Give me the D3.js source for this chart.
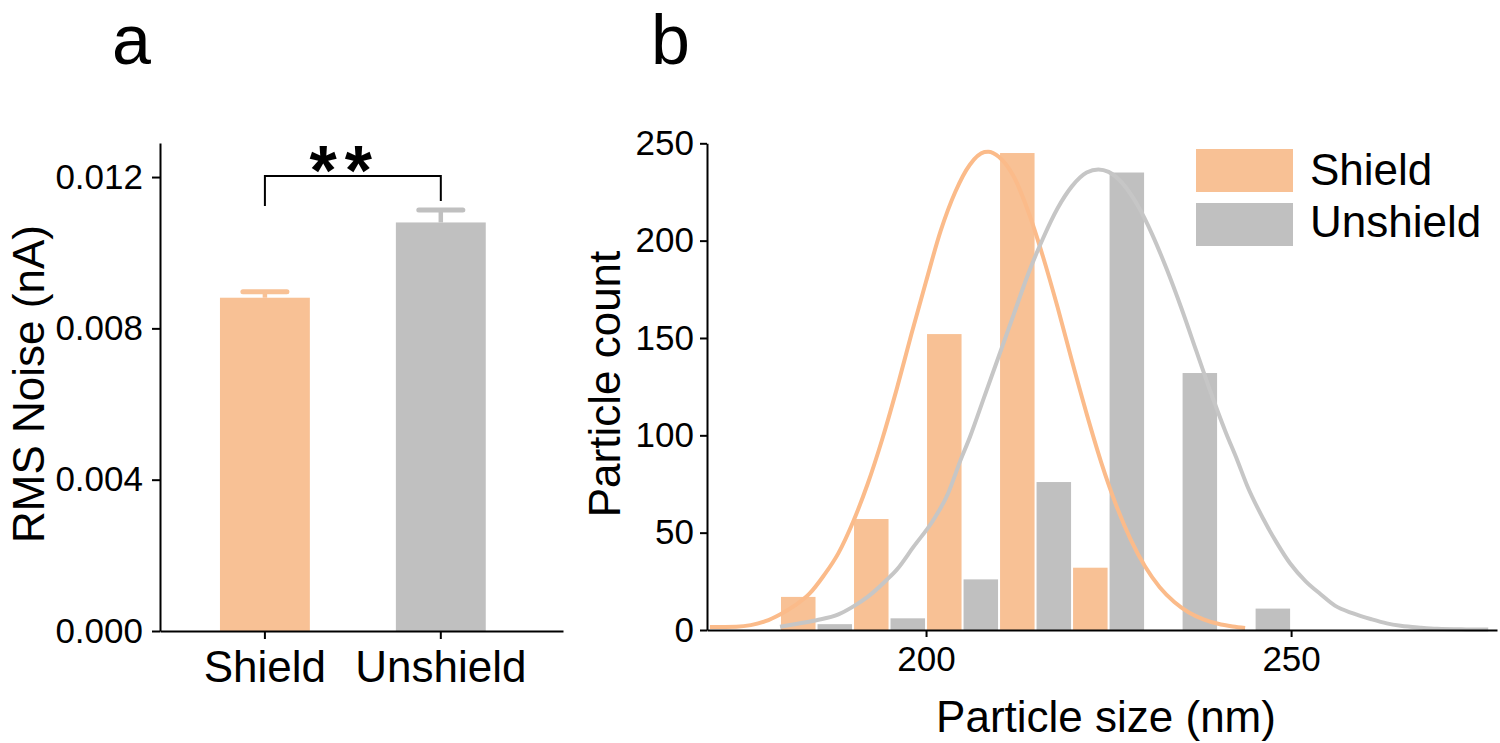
<!DOCTYPE html>
<html>
<head>
<meta charset="utf-8">
<script src="https://cdn.jsdelivr.net/npm/d3@7"></script>
<style>
  html, body { margin: 0; padding: 0; background: #fff; }
  svg { display: block; }
  text { font-family: "Liberation Sans", Arial, Helvetica, sans-serif; fill: #000; }
</style>
</head>
<body>
<svg id="chart" width="1500" height="743"></svg>
<script>
// ---------- Panel a data ----------
const noiseCategories = ["Shield", "Unshield"];
const noiseMeans = [0.00881, 0.0108];
const noiseErrors = [0.00016, 0.00033];
const noiseTicks = [0, 0.004, 0.008, 0.012];
const significanceLabel = "**";

// ---------- Panel b data ----------
const seriesNames = ["Shield", "Unshield"];
const binStarts = [180, 190, 200, 210, 220, 230, 240];
const shieldCounts = [17, 57, 152, 245, 32, 0, 0];
const unshieldCounts = [3, 6, 26, 76, 235, 132, 11];
const countTicks = [0, 50, 100, 150, 200, 250];
const sizeTicks = [200, 250];

const shieldFitSize = [170.4, 174, 176, 178, 180, 182, 184, 186, 188, 190, 192, 194, 196, 198, 200, 202, 204, 206, 208, 208.5, 210, 212, 214, 216, 218, 220, 222, 224, 226, 228, 230, 232, 234, 236, 238, 240, 242, 243.7];
const shieldFitCount = [1.5, 1.7, 2.5, 4.5, 8, 12.5, 18.5, 28, 39.5, 55.5, 75, 98, 124, 152, 179, 205, 225, 239, 245.5, 245.7, 243, 233, 215, 192, 166, 138, 111, 86, 64.5, 46.7, 32.6, 22, 14.4, 9, 5.5, 3.2, 1.8, 1.0];

const unshieldFitSize = [180, 182, 185, 188, 190, 192, 194.6, 196, 198.3, 201, 203, 204.7, 206, 208, 210, 212, 214, 216, 218, 220, 222, 223.6, 225, 227, 229, 231, 233, 235, 237, 239, 241, 242.6, 244, 246.2, 248, 249.9, 252, 254, 256, 258.5, 261, 263.1, 265, 267.7, 270, 274, 277];
const unshieldFitCount = [1.7, 3, 5, 8, 12, 17, 25.7, 31, 42.8, 56.5, 70, 87, 99, 120, 141, 162, 183, 201, 216.5, 228, 235, 236.6, 235.3, 229, 218, 203, 185, 165, 143.5, 122, 102, 87.5, 74, 57, 45, 34, 25, 18.5, 12.5, 8.5, 5.5, 3.4, 2.2, 1.2, 0.6, 0.3, 0.2];

// ---------- Styles ----------
const orangeBar = "#F8C195";
const greyBar = "#C0C0C0";
const orangeLine = "#FBBB8A";
const greyLine = "#C6C6C6";
const FONT = '"Liberation Sans", Arial, Helvetica, sans-serif';

const svg = d3.select("#chart");
svg.append("rect").attr("width", 1500).attr("height", 743).attr("fill", "#fff");

function styleAxis(g, fontSize) {
  g.selectAll("path.domain").attr("stroke", "#000").attr("stroke-width", 2);
  g.selectAll(".tick line").attr("stroke", "#000").attr("stroke-width", 2);
  g.selectAll(".tick text").attr("font-size", fontSize).attr("font-family", FONT).attr("fill", "#000");
}

// ================= Panel a =================
const yA = d3.scaleLinear().domain([0, 0.0129]).range([631, 143]);
const xA = d3.scaleBand().domain(noiseCategories).range([160, 563])
  .paddingInner(0.489).paddingOuter(0.39).align(0.437);

const gA = svg.append("g");

// bars
gA.selectAll("rect.bar").data(noiseCategories).join("rect")
  .attr("class", "bar")
  .attr("x", d => xA(d))
  .attr("width", xA.bandwidth())
  .attr("y", (d, i) => yA(noiseMeans[i]))
  .attr("height", (d, i) => yA(0) - yA(noiseMeans[i]))
  .attr("fill", (d, i) => i === 0 ? orangeBar : greyBar);

// error bars
const capHalf = xA.bandwidth() * 0.245;
noiseCategories.forEach((c, i) => {
  const cx = xA(c) + xA.bandwidth() / 2;
  const col = i === 0 ? orangeBar : greyBar;
  gA.append("line").attr("x1", cx).attr("x2", cx)
    .attr("y1", yA(noiseMeans[i])).attr("y2", yA(noiseMeans[i] + noiseErrors[i]))
    .attr("stroke", col).attr("stroke-width", 4.5);
  gA.append("line").attr("x1", cx - capHalf).attr("x2", cx + capHalf)
    .attr("y1", yA(noiseMeans[i] + noiseErrors[i])).attr("y2", yA(noiseMeans[i] + noiseErrors[i]))
    .attr("stroke", col).attr("stroke-width", 5).attr("stroke-linecap", "round");
});

// axes
const axA_y = gA.append("g").attr("transform", `translate(160,0)`)
  .call(d3.axisLeft(yA).tickValues(noiseTicks).tickFormat(d3.format(".3f"))
    .tickSize(8).tickSizeOuter(0).tickPadding(9));
styleAxis(axA_y, 35);
const axA_x = gA.append("g").attr("transform", `translate(0,631)`)
  .call(d3.axisBottom(xA).tickSize(8).tickSizeOuter(0).tickPadding(12));
styleAxis(axA_x, 44);

// significance bracket
const x1 = xA(noiseCategories[0]) + xA.bandwidth() / 2;
const x2 = xA(noiseCategories[1]) + xA.bandwidth() / 2;
const bracketY = yA(0.01203);
gA.append("path")
  .attr("d", `M${x1},${bracketY + 30}V${bracketY}H${x2}V${bracketY + 25}`)
  .attr("fill", "none").attr("stroke", "#000").attr("stroke-width", 2);
gA.append("text").attr("x", (x1 + x2) / 2 - 8).attr("y", bracketY + 19)
  .attr("text-anchor", "middle").attr("font-size", 70).attr("font-weight", "bold")
  .attr("letter-spacing", 8)
  .text(significanceLabel);

// y label
gA.append("text").attr("transform", "translate(44,384) rotate(-90)")
  .attr("text-anchor", "middle").attr("font-size", 44).text("RMS Noise (nA)");

// panel letter
svg.append("text").attr("x", 112).attr("y", 64).attr("font-size", 70).text("a");

// ================= Panel b =================
const xB = d3.scaleLinear().domain([170, 278.2]).range([707, 1497]);
const yB = d3.scaleLinear().domain([0, 250]).range([630, 143.3]);
const gB = svg.append("g");

const binHalf = 5;
gB.selectAll("rect.sh").data(binStarts).join("rect")
  .attr("class", "sh")
  .attr("x", d => xB(d) + 1)
  .attr("width", d => xB(d + binHalf) - xB(d) - 2)
  .attr("y", (d, i) => yB(shieldCounts[i]))
  .attr("height", (d, i) => yB(0) - yB(shieldCounts[i]))
  .attr("fill", orangeBar);
gB.selectAll("rect.un").data(binStarts).join("rect")
  .attr("class", "un")
  .attr("x", d => xB(d + binHalf) + 1)
  .attr("width", d => xB(d + 2 * binHalf) - xB(d + binHalf) - 2)
  .attr("y", (d, i) => yB(unshieldCounts[i]))
  .attr("height", (d, i) => yB(0) - yB(unshieldCounts[i]))
  .attr("fill", greyBar);

const line = d3.line().x(d => xB(d[0])).y(d => yB(d[1])).curve(d3.curveMonotoneX);
gB.append("path").datum(shieldFitSize.map((s, i) => [s, shieldFitCount[i]]))
  .attr("d", line).attr("fill", "none").attr("stroke", orangeLine).attr("stroke-width", 4);
gB.append("path").datum(unshieldFitSize.map((s, i) => [s, unshieldFitCount[i]]))
  .attr("d", line).attr("fill", "none").attr("stroke", greyLine).attr("stroke-width", 4);

const axB_y = gB.append("g").attr("transform", "translate(707,0)")
  .call(d3.axisLeft(yB).tickValues(countTicks).tickSize(7).tickSizeOuter(0).tickPadding(6));
styleAxis(axB_y, 35);
const axB_x = gB.append("g").attr("transform", "translate(0,630)")
  .call(d3.axisBottom(xB).tickValues(sizeTicks).tickSize(7).tickSizeOuter(0).tickPadding(9));
styleAxis(axB_x, 35);

gB.append("text").attr("x", 1106).attr("y", 732).attr("text-anchor", "middle")
  .attr("font-size", 44).text("Particle size (nm)");
gB.append("text").attr("transform", "translate(620,384) rotate(-90)")
  .attr("text-anchor", "middle").attr("font-size", 44).text("Particle count");

// legend
const legend = gB.append("g");
seriesNames.forEach((n, i) => {
  legend.append("rect").attr("x", 1196).attr("y", 149 + i * 54)
    .attr("width", 97).attr("height", 43).attr("fill", i === 0 ? orangeBar : greyBar);
  legend.append("text").attr("x", 1310).attr("y", 185 + i * 52)
    .attr("font-size", 44).text(n);
});

svg.append("text").attr("x", 651).attr("y", 64).attr("font-size", 70).text("b");
</script>
</body>
</html>
